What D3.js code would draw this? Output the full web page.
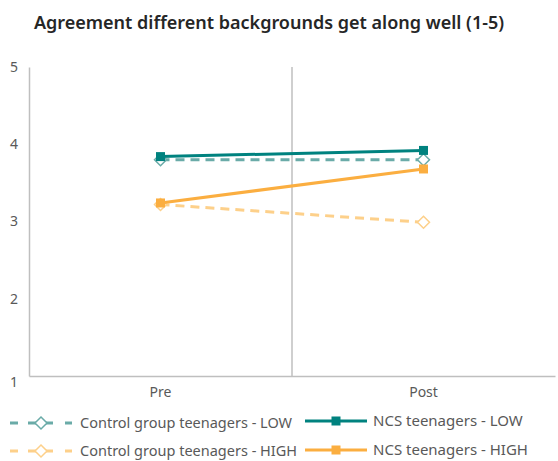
<!DOCTYPE html>
<html>
<head>
<meta charset="utf-8">
<script src="https://cdn.jsdelivr.net/npm/d3@7"></script>
<style>
body { margin:0; background:#fff; }
text { font-family: "Noto Sans", sans-serif; }
</style>
</head>
<body>
<svg id="chart"></svg>
<script>
var categories = ["Pre", "Post"];
var yTicks = [1, 2, 3, 4, 5];
var seriesNames = ["Control group teenagers - LOW", "NCS teenagers - LOW",
                   "Control group teenagers - HIGH", "NCS teenagers - HIGH"];
var controlLow  = [3.80, 3.80];
var ncsLow      = [3.84, 3.92];
var controlHigh = [3.22, 2.99];
var ncsHigh     = [3.24, 3.68];

var series = [
    {name: seriesNames[0], values: controlLow,  color: "#6aaba8", dash: "9,6", marker: "diamond"},
    {name: seriesNames[1], values: ncsLow,      color: "#00827f", dash: null,  marker: "square"},
    {name: seriesNames[2], values: controlHigh, color: "#fdd08a", dash: "9,6", marker: "diamond"},
    {name: seriesNames[3], values: ncsHigh,     color: "#fbae40", dash: null,  marker: "square"}
];

var screen = {width:558, height:461};
var margins = {top:67, left:29, right:3, bottom:86};
var graph = {
    width: screen.width - margins.left - margins.right,
    height: screen.height - margins.top - margins.bottom
};

var svg = d3.select("#chart")
    .attr("width", screen.width)
    .attr("height", screen.height);

svg.append("text")
    .attr("x", 269)
    .attr("y", 29)
    .attr("text-anchor", "middle")
    .attr("font-size", 18)
    .attr("font-weight", 600)
    .attr("fill", "#262626")
    .text("Agreement different backgrounds get along well (1-5)");

var xScale = d3.scaleBand()
    .domain(categories)
    .range([0, graph.width]);

var yScale = d3.scaleLinear()
    .domain([1, 5])
    .range([graph.height + 1, 0]);

var g = svg.append("g")
    .attr("transform", "translate(" + margins.left + "," + margins.top + ")");

// divider between categories
g.append("line")
    .attr("x1", xScale("Post")).attr("x2", xScale("Post"))
    .attr("y1", 0).attr("y2", yScale(1))
    .attr("stroke", "#bfbfbf").attr("stroke-width", 1.5);

// y axis
var yAxis = g.append("g")
    .call(d3.axisLeft(yScale).tickValues(yTicks).tickFormat(d3.format("d"))
        .tickSize(0).tickPadding(11));
yAxis.select(".domain").attr("stroke", "#bfbfbf").attr("stroke-width", 1.5);
yAxis.selectAll("text")
    .attr("font-size", 14).attr("fill", "#595959")
    .attr("font-family", "Noto Sans")
    .attr("dy", function(d){ return d == 1 ? "0.72em" : "0.32em"; });

// x axis
var xAxis = g.append("g")
    .attr("transform", "translate(0," + yScale(1) + ")")
    .call(d3.axisBottom(xScale).tickSize(0).tickPadding(11));
xAxis.select(".domain").attr("stroke", "#bfbfbf").attr("stroke-width", 1.5);
xAxis.selectAll("text")
    .attr("font-size", 14).attr("fill", "#595959")
    .attr("font-family", "Noto Sans");

var cx = function(c){ return xScale(c) + xScale.bandwidth() / 2; };

var line = d3.line()
    .x(function(d, i){ return cx(categories[i]); })
    .y(function(d){ return yScale(d); });

var drawMarker = function(sel, s, x, y)
{
    if (s.marker == "square") {
        sel.append("rect")
            .attr("x", x - 4.5).attr("y", y - 4.5)
            .attr("width", 9).attr("height", 9)
            .attr("fill", s.color);
    } else {
        sel.append("path")
            .attr("d", "M" + x + "," + (y - 6) + "L" + (x + 6) + "," + y +
                       "L" + x + "," + (y + 6) + "L" + (x - 6) + "," + y + "Z")
            .attr("fill", "#fff")
            .attr("stroke", s.color)
            .attr("stroke-width", 1.5);
    }
};

// draw control first, then NCS
[0, 2, 1, 3].forEach(function(k){
    var s = series[k];
    var sg = g.append("g");
    sg.append("path")
        .attr("d", line(s.values))
        .attr("fill", "none")
        .attr("stroke", s.color)
        .attr("stroke-width", 3)
        .attr("stroke-dasharray", s.dash);
    s.values.forEach(function(v, i){
        drawMarker(sg, s, cx(categories[i]), yScale(v));
    });
});

// legend
var legendPos = [
    {x:10, y:423}, {x:305, y:421},
    {x:10, y:451}, {x:305, y:450}
];
series.forEach(function(s, k){
    var p = legendPos[k];
    var lg = svg.append("g");
    lg.append("line")
        .attr("x1", p.x).attr("x2", p.x + 62)
        .attr("y1", p.y).attr("y2", p.y)
        .attr("stroke", s.color).attr("stroke-width", 3)
        .attr("stroke-dasharray", s.dash ? "8,10,25,12,7" : null);
    drawMarker(lg, s, p.x + 31, p.y);
    lg.append("text")
        .attr("x", p.x + (s.dash ? 70 : 68))
        .attr("y", p.y)
        .attr("dy", "0.35em")
        .attr("font-size", s.dash ? 14.5 : 15)
        .attr("fill", "#595959")
        .text(s.name);
});
</script>
</body>
</html>
